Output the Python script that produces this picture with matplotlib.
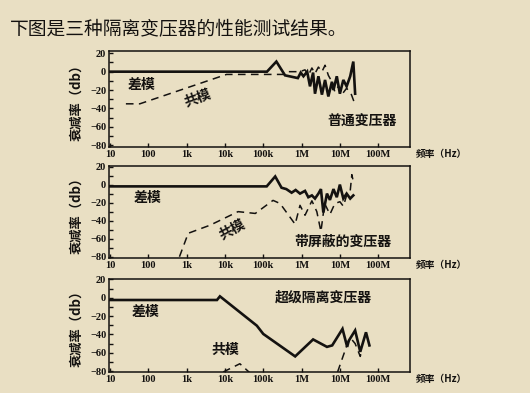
import matplotlib
matplotlib.use("Agg")
import matplotlib.pyplot as plt
from matplotlib.ticker import FixedLocator, NullLocator

# 背景色 (扫描件的米黄色)
BG = "#e9dfc3"
INK = "#141210"

title = "下图是三种隔离变压器的性能测试结果。"
panel_names = ["普通变压器", "带屏蔽的变压器", "超级隔离变压器"]
xtick_vals = [10, 100, 1e3, 1e4, 1e5, 1e6, 1e7, 1e8]
xtick_labels = ["10", "100", "1k", "10k", "100k", "1M", "10M", "100M"]
ytick_vals = [20, 0, -20, -40, -60, -80]

# 普通变压器
p1_diff_f = [10, 1.25e5, 2.2e5, 3.7e5, 8e5, 9.5e5, 1.12e6, 1.4e6, 1.66e6, 2.0e6, 2.24e6,
             2.75e6, 3.4e6, 4.1e6, 5e6, 6.2e6, 6.8e6, 8.3e6, 1.0e7, 1.23e7, 1.5e7,
             1.86e7, 2.24e7, 2.5e7]
p1_diff_db = [0, 0, 11, -4, -7, -1, -5, 0, -16, -1, -24,
              -5, -25, -9, -27, -11, -20, -5, -24, -9, -16,
              -5, 11, -24]
p1_cm_f = [26, 60, 1.1e4, 3.7e5, 4.5e5, 9e5, 1.23e6, 1.5e6, 1.86e6, 2.24e6, 2.75e6,
           3.4e6, 4.1e6, 5e6, 6.2e6, 7.4e6, 9.1e6, 1.12e7, 1.5e7, 2.0e7, 2.5e7]
p1_cm_db = [-35, -35, -3, -3, 0, 0, 2, -4, 4, -2, 5,
            0, 7, -4, -11, -22, -16, -25, -18, -25, -36]

# 带屏蔽的变压器
p2_diff_f = [10, 1.23e5, 2.05e5, 3.0e5, 4.0e5, 5.5e5, 7.0e5, 9.1e5, 1.23e6, 1.5e6,
             1.86e6, 2.24e6, 2.75e6, 3.2e6, 3.7e6, 4.6e6, 5.5e6, 6.8e6, 8.3e6,
             1.0e7, 1.23e7, 1.5e7, 1.86e7, 2.24e7]
p2_diff_db = [-2, -2, 9, -3.5, -5, -9, -6, -10, -7, -14,
              -12, -15.5, -10, -5, -31, -10, -17, -5, -14,
              0, -15.5, -10, -15.5, -12]
p2_cm_f = [650, 1.1e3, 4.1e3, 2.2e4, 6.2e4, 1.8e5, 2.75e5, 6.8e5, 9.1e5, 1.23e6,
           1.86e6, 2.5e6, 3.2e6, 4e6, 5.5e6, 7.4e6, 1e7, 1.23e7, 1.5e7, 1.86e7,
           2.05e7, 2.2e7]
p2_cm_db = [-80, -54, -45, -30, -32, -17.5, -21, -44, -23, -34,
            -18, -30, -52, -21, -33, -21, -19, -24, -12, -7,
            11, 5]

# 超级隔离变压器
p3_diff_f = [10, 6.2e3, 7.4e3, 6.8e4, 1e5, 6.8e5, 2.0e6, 4.6e6, 6.3e6, 1.17e7,
             1.55e7, 1.7e7, 2.5e7, 3.4e7, 4.8e7, 5.9e7]
p3_diff_db = [-2.5, -2.5, 1.5, -30.5, -39.5, -64, -45.5, -53.6, -52, -34,
              -53.6, -47, -35.7, -59, -37.7, -52]
p3_cm1_f = [9e3, 2.45e4, 4.5e4]
p3_cm1_db = [-81, -72, -82]
p3_cm2_f = [8.7e6, 1.55e7, 1.9e7, 2.5e7, 3.4e7, 3.6e7]
p3_cm2_db = [-81, -51, -44, -50, -64, -60]

W, H = 530, 393
fig = plt.figure(figsize=(W / 100, H / 100), dpi=100, facecolor=BG)

fig.text(10 / W, 1 - 30 / H, title, fontsize=13.5, color=INK,
         family=["Noto Sans CJK SC", "DejaVu Sans"], va="center", ha="left")

# 像素框: (left, top, right, bottom, ymin, ymax)
boxes = [(109, 51, 410, 147, -82, 22.5),
         (109, 166, 410, 258, -81.4, 20.6),
         (109, 279, 410, 372, -81, 20.4)]

cjk = ["Noto Sans CJK SC", "DejaVu Sans"]
axes = []
for (l, t, r, b, y0, y1) in boxes:
    ax = fig.add_axes([l / W, 1 - b / H, (r - l) / W, (b - t) / H])
    ax.set_facecolor(BG)
    ax.set_xscale("log")
    ax.set_xlim(10 ** 0.974, 10 ** 8.83)
    ax.set_ylim(y0, y1)
    ax.xaxis.set_major_locator(FixedLocator(xtick_vals))
    ax.xaxis.set_minor_locator(NullLocator())
    ax.set_xticklabels(xtick_labels)
    ax.yaxis.set_major_locator(FixedLocator(ytick_vals))
    ax.yaxis.set_minor_locator(FixedLocator([10, -10, -30, -50, -70]))
    ax.tick_params(direction="in", length=3, width=1, color=INK, pad=2,
                   labelsize=7.5, labelcolor=INK)
    ax.tick_params(which="minor", direction="in", length=3, width=1, color=INK)
    for lab in ax.get_xticklabels() + ax.get_yticklabels():
        lab.set_family("Liberation Serif")
        lab.set_fontweight("bold")
    for s in ax.spines.values():
        s.set_linewidth(1.1)
        s.set_color(INK)
    fig.text(76 / W, 1 - (t + b) / 2 / H, "衰减率（db）", rotation=90, fontsize=9.5,
             family=cjk, weight="bold", color=INK, ha="center", va="center")
    fig.text(416 / W, 1 - (b + 7) / H, "频率（Hz）", fontsize=7, family=cjk,
             weight="bold", color=INK, ha="left", va="center")
    axes.append(ax)

solid = dict(color=INK, lw=1.9, solid_joinstyle="miter")
dash = dict(color=INK, lw=1.1, ls=(0, (5, 3.5)))

ax1, ax2, ax3 = axes
ax1.plot(p1_diff_f, p1_diff_db, **solid)
ax1.plot(p1_cm_f, p1_cm_db, **dash)
ax2.plot(p2_diff_f, p2_diff_db, **solid)
ax2.plot(p2_cm_f, p2_cm_db, **dash)
ax3.plot(p3_diff_f, p3_diff_db, **solid)
ax3.plot(p3_cm1_f, p3_cm1_db, **dash)
ax3.plot(p3_cm2_f, p3_cm2_db, **dash)

lab = dict(fontsize=10, family=cjk, weight="bold", color=INK, ha="center", va="center")
# 面板内文字 (像素坐标)
fig.text(141 / W, 1 - 85 / H, "差模", **lab)
fig.text(198 / W, 1 - 98 / H, "共模", rotation=20, **lab)
fig.text(362 / W, 1 - 122 / H, panel_names[0], **lab)
fig.text(147 / W, 1 - 198 / H, "差模", **lab)
fig.text(232 / W, 1 - 230 / H, "共模", rotation=28, **lab)
fig.text(343 / W, 1 - 242 / H, panel_names[1], **lab)
fig.text(146 / W, 1 - 312 / H, "差模", **lab)
fig.text(225 / W, 1 - 350 / H, "共模", **lab)
fig.text(323 / W, 1 - 298 / H, panel_names[2], **lab)

fig.savefig("out.png", dpi=100, facecolor=BG)
